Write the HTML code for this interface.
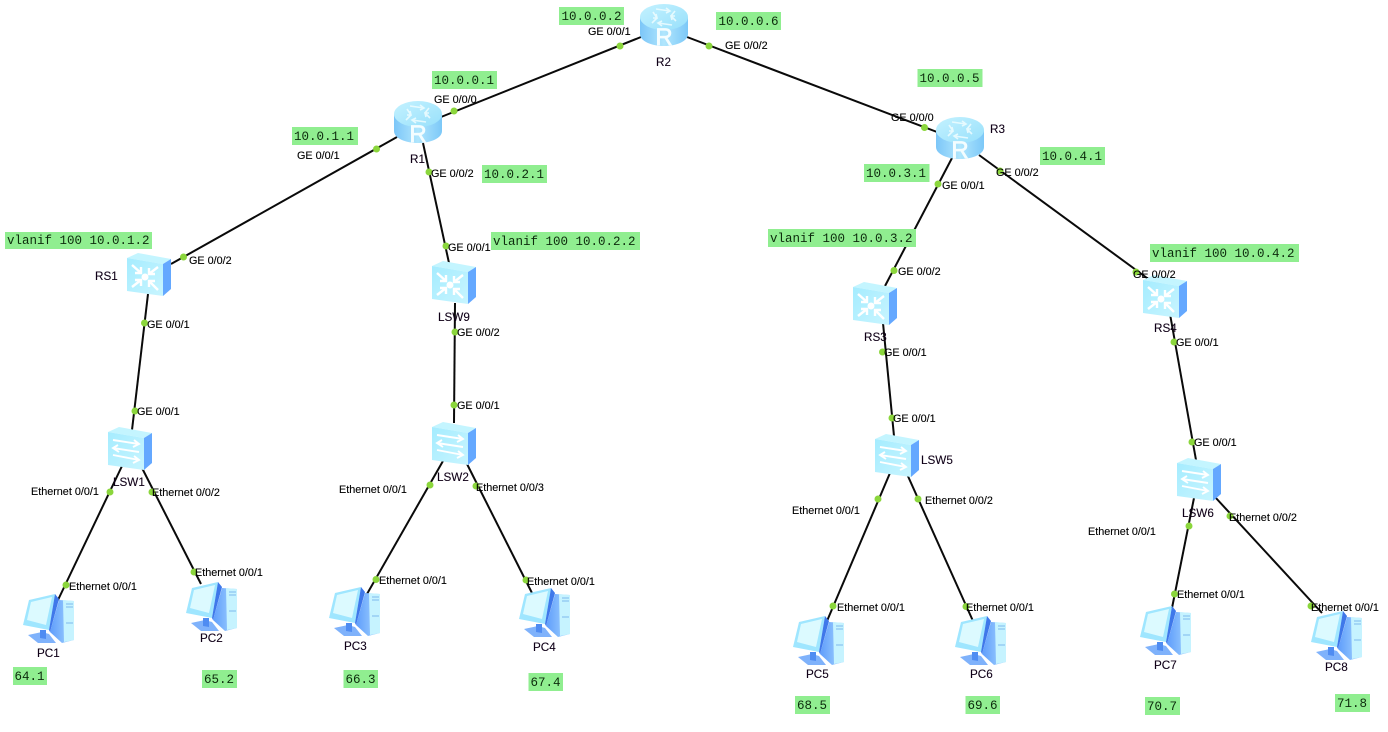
<!DOCTYPE html>
<html>
<head>
<meta charset="utf-8">
<style>
html,body{margin:0;padding:0;background:#fff;width:1388px;height:732px;overflow:hidden}
svg{display:block}
.l{stroke:#0a0a0a;stroke-width:2;fill:none}
.d{fill:#8bd63c}
.p{font:10.8px "Liberation Sans",sans-serif;fill:#000;stroke:#000;stroke-width:.12}
.n{font:11.7px "Liberation Sans",sans-serif;fill:#100018;stroke:#100018;stroke-width:.1}
.g{fill:#90ee90}
.m{font:12.5px "Liberation Mono",monospace;fill:#0c2a0c}
</style>
</head>
<body>
<svg width="1388" height="732" viewBox="0 0 1388 732" xmlns="http://www.w3.org/2000/svg">
<defs>
<linearGradient id="rb" x1="0" x2="1" y1="0" y2="0">
<stop offset="0" stop-color="#7cc6f8"/><stop offset=".5" stop-color="#b0e6fd"/><stop offset="1" stop-color="#7cc8f8"/>
</linearGradient>
<linearGradient id="rt" x1="0" x2="1" y1="0" y2="1">
<stop offset="0" stop-color="#c4f2ff"/><stop offset="1" stop-color="#98e0fb"/>
</linearGradient>
<linearGradient id="sf" x1="0" x2="1" y1="0" y2="1">
<stop offset="0" stop-color="#a5ecff"/><stop offset="1" stop-color="#c8f5ff"/>
</linearGradient>
<linearGradient id="pb" x1="0" x2="1" y1="0" y2="0">
<stop offset="0" stop-color="#5f9dfb"/><stop offset="1" stop-color="#a6d6ff"/>
</linearGradient>
<symbol id="router" width="48" height="42" viewBox="0 0 48 42">
<path d="M0 13 V30 C0 37 11 42 24 42 C37 42 48 37 48 30 V13 Z" fill="url(#rb)"/>
<ellipse cx="24" cy="13" rx="24" ry="13" fill="url(#rt)"/>
<g fill="none" stroke="#ecfcff" stroke-width="1.6" opacity=".9">
<path d="M16 5 L30 7 M26 4 L30 7 L26 9"/>
<path d="M32 21 L18 19 M22 22 L18 19 L22 17"/>
<path d="M13 8 L17 14 L12 19 M13 14 L17 14 L16 10"/>
<path d="M35 7 L31 12 L36 17 M35 12 L31 12 L32 16"/>
</g>
<text x="24" y="41" text-anchor="middle" style="font:24px 'Liberation Sans',sans-serif;fill:#f4fdff;stroke:#f4fdff;stroke-width:.7">R</text>
</symbol>
<symbol id="l3" width="44" height="43" viewBox="0 0 44 43">
<polygon points="0,5 11,0 44,6 36,11" fill="#c4f5ff"/>
<polygon points="0,5 36,11 36,43 0,38" fill="url(#sf)"/>
<polygon points="36,11 44,6 44,36 36,43" fill="#64a8ff"/>
<circle cx="18" cy="24" r="3.5" fill="#fff"/>
<g stroke="#fff" stroke-width="2.4" fill="none">
<path d="M5 12 L14 20 M14 14 V20 H8"/>
<path d="M31 14 L22 21 M22 15 V21 H28"/>
<path d="M5 34 L14 27 M8 27 H14 V33"/>
<path d="M31 37 L22 28 M28 28 H22 V34"/>
</g>
</symbol>
<symbol id="l2" width="44" height="43" viewBox="0 0 44 43">
<polygon points="0,5 11,0 44,6 36,11" fill="#c4f5ff"/>
<polygon points="0,5 36,11 36,43 0,38" fill="url(#sf)"/>
<polygon points="36,11 44,6 44,36 36,43" fill="#64a8ff"/>
<g stroke="#fff" stroke-width="1.9" fill="none">
<path d="M5 13 L31 17 M26 13 L31 17 L25 20"/>
<path d="M31 25 L5 21 M10 18 L5 21 L11 25"/>
<path d="M5 28 L31 33 M26 29 L31 33 L25 36"/>
</g>
</symbol>
<symbol id="pc" width="52" height="50" viewBox="0 0 52 50">
<polygon points="36,7 51,8 51,47 39,50 27,39" fill="url(#pb)"/>
<polygon points="40,7 51,8 51,47 41,49" fill="#c6f3ff"/>
<path d="M43 11h7M43 14h7M43 30h7" stroke="#7fb8ee" stroke-width="1"/>
<polygon points="5,42 19,39 26,41 33,50 15,50" fill="#7fb2fb"/>
<polygon points="17,37 23,37 23,46 17,45" fill="#4f8cf2"/>
<polygon points="6,7 32,1 26,37 0,32" fill="#9fe6ff"/>
<polygon points="8,9 29,4 23,32 4,27" fill="#dcfaff"/>
<polygon points="32,1 36,6 27,39 26,37" fill="#3f78ea"/>
</symbol>
</defs>

<!-- connectors -->
<g class="l">
<line x1="641" y1="37" x2="441" y2="117"/>
<line x1="687" y1="37" x2="937" y2="132"/>
<line x1="397" y1="137" x2="171" y2="264"/>
<line x1="423" y1="143" x2="449" y2="263"/>
<line x1="148" y1="294" x2="132" y2="430"/>
<line x1="455" y1="303" x2="454" y2="423"/>
<line x1="952" y1="158" x2="885" y2="286"/>
<line x1="979" y1="155" x2="1147" y2="278"/>
<line x1="883" y1="323" x2="894" y2="436"/>
<line x1="1170" y1="314" x2="1196" y2="460"/>
<line x1="122" y1="466" x2="58" y2="600"/>
<line x1="141" y1="466" x2="201" y2="584"/>
<line x1="443" y1="461" x2="367" y2="594"/>
<line x1="466" y1="462" x2="533" y2="595"/>
<line x1="890" y1="473" x2="827" y2="621"/>
<line x1="907" y1="474" x2="973" y2="621"/>
<line x1="1194" y1="498" x2="1172" y2="608"/>
<line x1="1215" y1="497" x2="1322" y2="613"/>
</g>

<!-- devices -->
<use href="#router" x="640" y="4"/>
<use href="#router" x="394" y="101"/>
<use href="#router" x="936" y="117"/>
<use href="#l3" x="127" y="253"/>
<use href="#l3" x="432" y="261"/>
<use href="#l3" x="853" y="282"/>
<use href="#l3" x="1143" y="275"/>
<use href="#l2" x="108" y="427"/>
<use href="#l2" x="432" y="422"/>
<use href="#l2" x="875" y="434"/>
<use href="#l2" x="1177" y="458"/>
<use href="#pc" x="23" y="593"/>
<use href="#pc" x="186" y="581"/>
<use href="#pc" x="329" y="586"/>
<use href="#pc" x="519" y="587"/>
<use href="#pc" x="793" y="615"/>
<use href="#pc" x="955" y="615"/>
<use href="#pc" x="1140" y="605"/>
<use href="#pc" x="1311" y="610"/>

<!-- port dots -->
<g class="d">
<circle cx="620" cy="46" r="3.5"/><circle cx="709" cy="46" r="3.5"/>
<circle cx="454" cy="111" r="3.5"/><circle cx="924.5" cy="127.5" r="3.5"/>
<circle cx="376.5" cy="149" r="3.5"/><circle cx="429" cy="172" r="3.5"/>
<circle cx="938" cy="184" r="3.5"/><circle cx="1000" cy="171" r="3.5"/>
<circle cx="183.5" cy="257" r="3.5"/><circle cx="446" cy="246" r="3.5"/>
<circle cx="894" cy="270.5" r="3.5"/><circle cx="1136" cy="272" r="3.5"/>
<circle cx="144.5" cy="323" r="3.5"/><circle cx="455" cy="332" r="3.5"/>
<circle cx="882.5" cy="352" r="3.5"/><circle cx="1174" cy="342" r="3.5"/>
<circle cx="135" cy="411" r="3.5"/><circle cx="454" cy="405" r="3.5"/>
<circle cx="892" cy="418" r="3.5"/><circle cx="1192" cy="442" r="3.5"/>
<circle cx="110" cy="492" r="3.5"/><circle cx="152" cy="492" r="3.5"/>
<circle cx="430" cy="485" r="3.5"/><circle cx="476" cy="486" r="3.5"/>
<circle cx="878" cy="499" r="3.5"/><circle cx="918" cy="499" r="3.5"/>
<circle cx="1189" cy="526" r="3.5"/><circle cx="1230" cy="516" r="3.5"/>
<circle cx="66" cy="585" r="3.5"/><circle cx="194" cy="572" r="3.5"/>
<circle cx="376" cy="579.5" r="3.5"/><circle cx="526" cy="580" r="3.5"/>
<circle cx="833" cy="606" r="3.5"/><circle cx="966" cy="606.5" r="3.5"/>
<circle cx="1174.5" cy="594" r="3.5"/><circle cx="1311" cy="606" r="3.5"/>
</g>

<!-- green annotation boxes -->
<g class="g">
<rect x="559" y="7" width="65" height="18"/>
<rect x="716" y="12" width="65" height="18"/>
<rect x="432" y="71" width="65" height="18"/>
<rect x="917.5" y="69" width="65" height="18"/>
<rect x="292" y="127" width="66" height="18"/>
<rect x="482" y="165" width="65" height="18"/>
<rect x="864" y="164" width="65.5" height="18"/>
<rect x="1040" y="147" width="65" height="18"/>
<rect x="5" y="232" width="147" height="17"/>
<rect x="491" y="232" width="149" height="18"/>
<rect x="768" y="229" width="148" height="18"/>
<rect x="1150" y="244" width="149" height="18"/>
<rect x="13" y="667" width="34" height="18"/>
<rect x="202" y="670" width="35" height="18"/>
<rect x="343.5" y="670" width="34.5" height="18"/>
<rect x="528.5" y="673" width="34.5" height="18"/>
<rect x="795" y="696" width="35" height="18"/>
<rect x="965.5" y="696" width="34.5" height="18"/>
<rect x="1145" y="697" width="35" height="18"/>
<rect x="1335" y="694" width="35" height="18"/>
</g>
<g class="m">
<text x="561.5" y="20">10.0.0.2</text>
<text x="718.5" y="25">10.0.0.6</text>
<text x="434" y="84">10.0.0.1</text>
<text x="919.5" y="82">10.0.0.5</text>
<text x="294" y="140">10.0.1.1</text>
<text x="484" y="178">10.0.2.1</text>
<text x="866" y="177">10.0.3.1</text>
<text x="1042" y="160">10.0.4.1</text>
<text x="7" y="244">vlanif 100 10.0.1.2</text>
<text x="493" y="245">vlanif 100 10.0.2.2</text>
<text x="770" y="242">vlanif 100 10.0.3.2</text>
<text x="1152" y="257">vlanif 100 10.0.4.2</text>
<text x="14.5" y="680">64.1</text>
<text x="204" y="683">65.2</text>
<text x="345.5" y="683">66.3</text>
<text x="530.5" y="686">67.4</text>
<text x="797" y="709">68.5</text>
<text x="967.5" y="709">69.6</text>
<text x="1147" y="710">70.7</text>
<text x="1337" y="707">71.8</text>
</g>

<!-- port labels -->
<g class="p">
<text x="588" y="35">GE 0/0/1</text>
<text x="725" y="49">GE 0/0/2</text>
<text x="434" y="103">GE 0/0/0</text>
<text x="891" y="121">GE 0/0/0</text>
<text x="297" y="159">GE 0/0/1</text>
<text x="431" y="177">GE 0/0/2</text>
<text x="942" y="189">GE 0/0/1</text>
<text x="996" y="176">GE 0/0/2</text>
<text x="189" y="264">GE 0/0/2</text>
<text x="448" y="251">GE 0/0/1</text>
<text x="898" y="275">GE 0/0/2</text>
<text x="1133" y="278">GE 0/0/2</text>
<text x="147" y="328">GE 0/0/1</text>
<text x="457" y="336">GE 0/0/2</text>
<text x="884" y="356">GE 0/0/1</text>
<text x="1176" y="346">GE 0/0/1</text>
<text x="137" y="415">GE 0/0/1</text>
<text x="457" y="409">GE 0/0/1</text>
<text x="893" y="422">GE 0/0/1</text>
<text x="1194" y="446">GE 0/0/1</text>
<text x="31" y="495">Ethernet 0/0/1</text>
<text x="152" y="496">Ethernet 0/0/2</text>
<text x="339" y="493">Ethernet 0/0/1</text>
<text x="476" y="491">Ethernet 0/0/3</text>
<text x="792" y="514">Ethernet 0/0/1</text>
<text x="925" y="504">Ethernet 0/0/2</text>
<text x="1088" y="535">Ethernet 0/0/1</text>
<text x="1229" y="521">Ethernet 0/0/2</text>
<text x="69" y="590">Ethernet 0/0/1</text>
<text x="195" y="576">Ethernet 0/0/1</text>
<text x="379" y="584">Ethernet 0/0/1</text>
<text x="527" y="585">Ethernet 0/0/1</text>
<text x="837" y="611">Ethernet 0/0/1</text>
<text x="966" y="611">Ethernet 0/0/1</text>
<text x="1177" y="598">Ethernet 0/0/1</text>
<text x="1311" y="611">Ethernet 0/0/1</text>
</g>

<!-- device names -->
<g class="n">
<text x="656" y="66">R2</text>
<text x="410" y="163">R1</text>
<text x="990" y="133">R3</text>
<text x="95" y="280">RS1</text>
<text x="438" y="321">LSW9</text>
<text x="864" y="341">RS3</text>
<text x="1154" y="332">RS4</text>
<text x="113" y="486">LSW1</text>
<text x="437" y="481">LSW2</text>
<text x="921" y="464">LSW5</text>
<text x="1182" y="517">LSW6</text>
<text x="37" y="657">PC1</text>
<text x="200" y="642">PC2</text>
<text x="344" y="650">PC3</text>
<text x="533" y="651">PC4</text>
<text x="806" y="678">PC5</text>
<text x="970" y="678">PC6</text>
<text x="1154" y="669">PC7</text>
<text x="1325" y="671">PC8</text>
</g>
</svg>
</body>
</html>
